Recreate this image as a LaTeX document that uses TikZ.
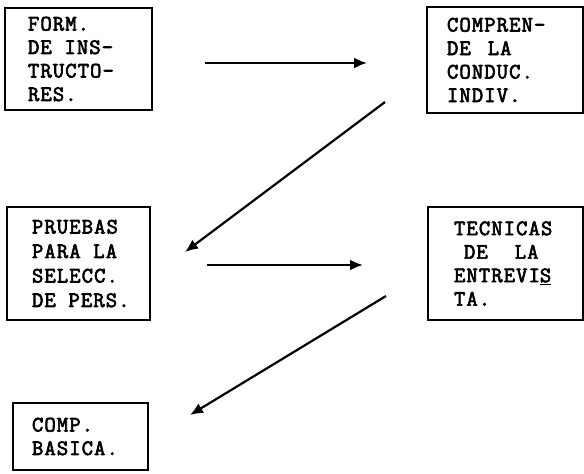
\documentclass[tikz,border=0pt]{standalone}
\usepackage{fontspec}
\newfontfamily\typewriter[LetterSpace=5, FakeBold=3]{Latin Modern Mono}
\usetikzlibrary{arrows.meta}

% one typewriter blank
\newcommand\blank{\hspace*{12.7pt}}

\tikzset{
  card/.style={draw, line width=2pt, align=left, font=\typewriter\fontsize{22}{23.5}\selectfont,
               inner ysep=0pt, anchor=center},
  flow/.style={line width=2.2pt, -{Latex[length=13pt,width=11pt]}}
}

\begin{document}
\begin{tikzpicture}[x=1pt,y=-1pt]
  \useasboundingbox (0,0) rectangle (584,474);

  % boxes of the course plan
  \node[card, minimum width=147pt, minimum height=102pt, text width=101pt, inner xsep=23pt]
    (form) at (78.5,59) {FORM.\\DE\blank INS-\\TRUCTO-\\RES.};
  \node[card, minimum width=156pt, minimum height=106pt, text width=116pt, inner xsep=20pt]
    (compren) at (505,60) {COMPREN-\\DE\hspace*{17pt}LA\\CONDUC.\\INDIV.};
  \node[card, minimum width=143pt, minimum height=113pt, text width=93pt, inner xsep=25pt, font=\typewriter\fontsize{22}{24.5}\selectfont]
    (pruebas) at (78.5,263.5) {PRUEBAS\\PARA\blank LA\\SELECC.\\DE\blank PERS.};
  \node[card, minimum width=155pt, minimum height=113pt, text width=103pt, inner xsep=26pt]
    (tecnicas) at (505.5,263.5) {TECNICAS\\\hspace*{10pt}DE\hspace*{27pt}LA\\ENTREVI\underline{S}\\TA.};
  \node[card, minimum width=135pt, minimum height=67pt, text width=97pt, inner xsep=19pt]
    (basica) at (80.5,436.5) {COMP.\\BASICA.};

  % arrow end points
  \coordinate (a1s) at (205,63);
  \coordinate (a1e) at (367,63);
  \coordinate (a2s) at (385,102);
  \coordinate (a2e) at (185,252);
  \coordinate (a3s) at (207,265);
  \coordinate (a3e) at (363,265);
  \coordinate (a4s) at (386,296);
  \coordinate (a4e) at (190,415);

  \draw[flow] (a1s) -- (a1e);
  \draw[flow] (a2s) -- (a2e);
  \draw[flow] (a3s) -- (a3e);
  \draw[flow] (a4s) -- (a4e);
\end{tikzpicture}
\end{document}
